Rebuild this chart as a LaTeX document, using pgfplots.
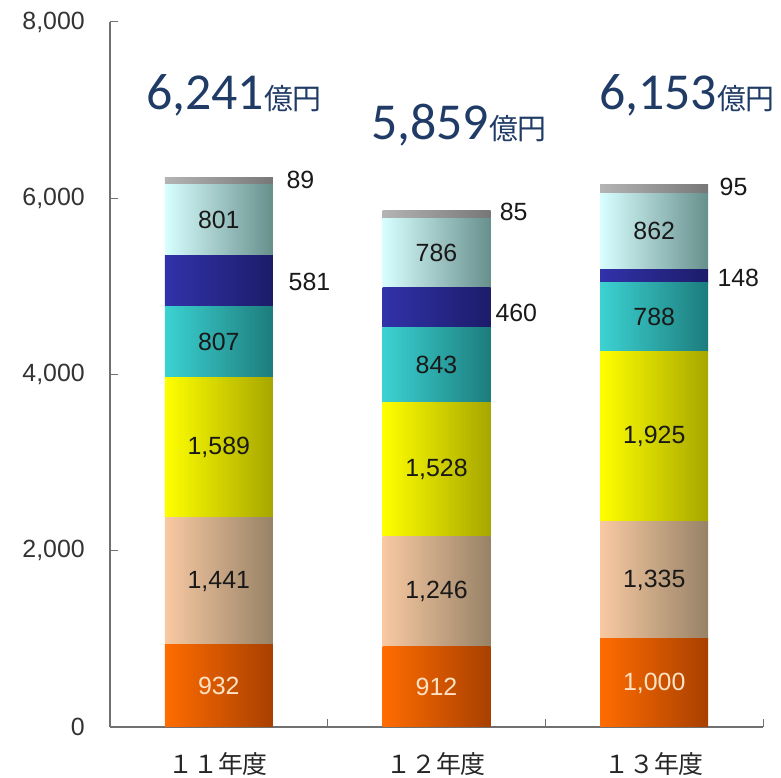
\documentclass[border=0pt]{standalone}
\usepackage{fontspec}
\setmainfont{Liberation Sans}
\newfontfamily\cjk{Noto Sans CJK JP}
\newfontfamily\carl{Carlito}
\usepackage{pgfplots}
\pgfplotsset{compat=1.18}
\definecolor{orL}{HTML}{FF6C00}\definecolor{orR}{HTML}{A84000}
\definecolor{taL}{HTML}{F8C9A2}\definecolor{taR}{HTML}{978266}
\definecolor{yeL}{HTML}{FFFF00}\definecolor{yeR}{HTML}{A6A600}
\definecolor{teL}{HTML}{3CD2D2}\definecolor{teR}{HTML}{1D7C7C}
\definecolor{nvL}{HTML}{3232AA}\definecolor{nvR}{HTML}{1C1C6A}
\definecolor{cyL}{HTML}{D8FFFF}\definecolor{cyR}{HTML}{678F8C}
\definecolor{grL}{HTML}{B4B4B4}\definecolor{grR}{HTML}{777777}
\definecolor{navytxt}{HTML}{1F3B66}
\definecolor{peach}{HTML}{FFE2C4}
\definecolor{axgray}{HTML}{707070}
\pgfplotsset{
  base/.style={
    at={(110bp,51bp)}, anchor=south west,
    scale only axis, width=653bp, height=705bp,
    xmin=-0.5, xmax=2.5, ymin=0, ymax=8000,
    ybar stacked, bar width=108bp,
  },
  s1/.style={draw=none, left color=orL, right color=orR},
  s2/.style={draw=none, left color=taL, right color=taR},
  s3/.style={draw=none, left color=yeL, right color=yeR},
  s4/.style={draw=none, left color=teL, right color=teR},
  s5/.style={draw=none, left color=nvL, right color=nvR},
  s6/.style={draw=none, left color=cyL, right color=cyR},
  s7/.style={draw=none, left color=grL, right color=grR},
}
\begin{document}
\begin{tikzpicture}
\useasboundingbox (0bp,0bp) rectangle (781bp,778bp);
% 11年度 (with the axis lines)
\begin{axis}[base,
  axis x line*=bottom, axis y line*=left,
  axis line style={axgray, line width=1.2pt},
  ytick={0,2000,4000,6000,8000},
  yticklabels={0,{2,000},{4,000},{6,000},{8,000}},
  yticklabel style={font=\fontsize{25}{25}\selectfont, text=black!80, anchor=east, inner sep=0pt, xshift=-25bp},
  xtick={0.5,1.5,2.5},
  xticklabels={},
  tick align=inside,
  major tick length=8bp,
  tick style={axgray, line width=1pt},
]
\addplot[s1] coordinates {(0,932)};
\addplot[s2] coordinates {(0,1441)};
\addplot[s3] coordinates {(0,1589)};
\addplot[s4] coordinates {(0,807)};
\addplot[s5] coordinates {(0,581)};
\addplot[s6] coordinates {(0,801)};
\addplot[s7] coordinates {(0,89)};
\end{axis}
% 12年度
\begin{axis}[base, hide axis]
\addplot[s1] coordinates {(1,912)};
\addplot[s2] coordinates {(1,1246)};
\addplot[s3] coordinates {(1,1528)};
\addplot[s4] coordinates {(1,843)};
\addplot[s5] coordinates {(1,460)};
\addplot[s6] coordinates {(1,786)};
\addplot[s7] coordinates {(1,85)};
\end{axis}
% 13年度
\begin{axis}[base, hide axis]
\addplot[s1] coordinates {(2,1000)};
\addplot[s2] coordinates {(2,1335)};
\addplot[s3] coordinates {(2,1925)};
\addplot[s4] coordinates {(2,788)};
\addplot[s5] coordinates {(2,148)};
\addplot[s6] coordinates {(2,862)};
\addplot[s7] coordinates {(2,95)};
\end{axis}
% positions: x = 110 + (c+0.5)*217.67 ; y = 51 + v*0.088125 (bp)
\begin{scope}[every node/.style={font=\fontsize{25}{25}\selectfont\cjk, text=black!85}]
\node at (218bp,14bp) {１１年度};
\node at (436bp,14bp) {１２年度};
\node at (654bp,14bp) {１３年度};
\end{scope}
\begin{scope}[every node/.style={font=\fontsize{25}{25}\selectfont, text=black!90}]
\node[text=peach] at (218.8bp,92.1bp) {932};
\node at (218.8bp,196.6bp) {1,441};
\node at (218.8bp,330.1bp) {1,589};
\node at (218.8bp,435.7bp) {807};
\node at (218.8bp,557.7bp) {801};
\node[text=peach] at (436.5bp,91.2bp) {912};
\node at (436.5bp,186.3bp) {1,246};
\node at (436.5bp,308.5bp) {1,528};
\node at (436.5bp,412.9bp) {843};
\node at (436.5bp,525.3bp) {786};
\node[text=peach] at (654.2bp,95.1bp) {1,000};
\node at (654.2bp,197.9bp) {1,335};
\node at (654.2bp,341.6bp) {1,925};
\node at (654.2bp,461.1bp) {788};
\node at (654.2bp,546.9bp) {862};
\end{scope}
\begin{scope}[every node/.style={font=\fontsize{25}{25}\selectfont, text=black!90, anchor=west, inner sep=0pt}]
\node at (286.3bp,598.2bp) {89};
\node at (288.5bp,496.1bp) {581};
\node at (499.6bp,566.2bp) {85};
\node at (495.3bp,465.1bp) {460};
\node at (719.5bp,591.2bp) {95};
\node at (717.3bp,500.2bp) {148};
\end{scope}
\begin{scope}[every node/.style={anchor=base, text=navytxt, inner sep=0pt}]
\node at (234bp,668bp) {\carl\fontsize{52}{52}\selectfont 6,241\cjk\fontsize{29}{29}\selectfont 億円};
\node at (459bp,638bp) {\carl\fontsize{52}{52}\selectfont 5,859\cjk\fontsize{29}{29}\selectfont 億円};
\node at (687bp,668bp) {\carl\fontsize{52}{52}\selectfont 6,153\cjk\fontsize{29}{29}\selectfont 億円};
\end{scope}
\end{tikzpicture}
\end{document}
